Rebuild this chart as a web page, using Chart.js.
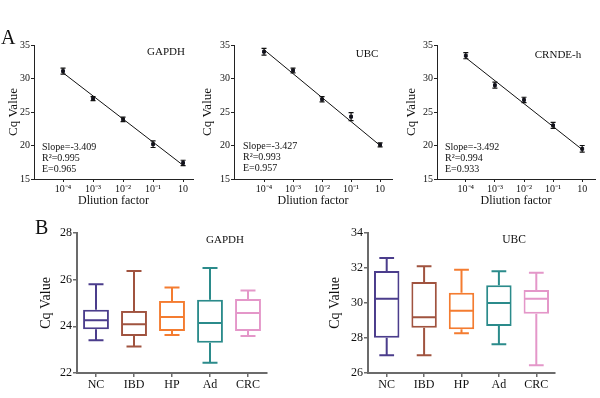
<!DOCTYPE html>
<html>
<head>
<meta charset="utf-8">
<title>Standard curves and Cq values of reference genes</title>
<script src="https://cdn.jsdelivr.net/npm/chart.js"></script>
<style>
  body { margin: 0; background: #fff; }
  #wrap { position: relative; width: 600px; height: 398px; overflow: hidden; }
  #wrap canvas { position: absolute; }
  .t { position: absolute; font-family: 'Liberation Serif', 'Times New Roman', serif; color: #111; white-space: nowrap; }
</style>
</head>
<body>
<div id="wrap">
  <canvas id="a1" width="200" height="190" style="left:0px;top:20px"></canvas>
  <canvas id="a2" width="200" height="190" style="left:200px;top:20px"></canvas>
  <canvas id="a3" width="197" height="190" style="left:403px;top:20px"></canvas>
  <canvas id="b1" width="300" height="188" style="left:0px;top:210px"></canvas>
  <canvas id="b2" width="300" height="188" style="left:300px;top:210px"></canvas>

  <div class="t" style="left:1px;top:27px;font-size:20px;line-height:20px">A</div>
  <div class="t" style="left:35px;top:217px;font-size:20px;line-height:20px">B</div>

  <div class="t" style="left:116px;top:46px;width:100px;text-align:center;font-size:11px;line-height:11px">GAPDH</div>
  <div class="t" style="left:317px;top:48px;width:100px;text-align:center;font-size:11px;line-height:11px">UBC</div>
  <div class="t" style="left:508px;top:49px;width:100px;text-align:center;font-size:11px;line-height:11px">CRNDE-h</div>

  <div class="t" style="left:42px;top:141px;font-size:10px;line-height:11px">Slope=-3.409<br>R²=0.995<br>E=0.965</div>
  <div class="t" style="left:243px;top:140px;font-size:10px;line-height:11px">Slope=-3.427<br>R²=0.993<br>E=0.957</div>
  <div class="t" style="left:445px;top:141px;font-size:10px;line-height:11px">Slope=-3.492<br>R²=0.994<br>E=0.933</div>

  <div class="t" style="left:175px;top:234px;width:100px;text-align:center;font-size:11px;line-height:11px">GAPDH</div>
  <div class="t" style="left:464px;top:234px;width:100px;text-align:center;font-size:11.5px;line-height:11px">UBC</div>
</div>
<script>
// --- data: standard curves (A) ---
var dilutionLabels = ['10⁻⁴', '10⁻³', '10⁻²', '10⁻¹', '10'];

var gapdhCurve = [31.1, 27.0, 23.9, 20.2, 17.4];
var gapdhCurveErr = [0.45, 0.3, 0.35, 0.5, 0.4];
var gapdhFit = [30.85, 17.05];

var ubcCurve = [34.0, 31.2, 26.9, 24.3, 20.1];
var ubcCurveErr = [0.5, 0.35, 0.4, 0.6, 0.3];
var ubcFit = [34.3, 20.0];

var crndeCurve = [33.4, 29.0, 26.8, 23.0, 19.5];
var crndeCurveErr = [0.45, 0.45, 0.4, 0.45, 0.5];
var crndeFit = [33.1, 19.4];

// --- data: Cq box plots (B) ---
var groups = ['NC', 'IBD', 'HP', 'Ad', 'CRC'];
var groupColors = ['#4b3d8c', '#a0533f', '#f47c30', '#2b8b8b', '#e497c9'];

var gapdhMin = [23.4, 23.14, 23.63, 22.44, 23.59];
var gapdhQ1 = [23.87, 23.59, 23.8, 23.3, 23.8];
var gapdhMedian = [24.26, 24.09, 24.4, 24.14, 24.57];
var gapdhQ3 = [24.71, 24.66, 25.09, 25.14, 25.17];
var gapdhMax = [25.8, 26.37, 25.66, 26.5, 25.54];

var ubcMin = [27.01, 27.01, 28.27, 27.64, 26.44];
var ubcQ1 = [28.02, 28.59, 28.5, 28.69, 29.39];
var ubcMedian = [30.25, 29.18, 29.56, 30.0, 30.25];
var ubcQ3 = [31.83, 31.2, 30.59, 31.01, 30.74];
var ubcMax = [32.57, 32.1, 31.9, 31.81, 31.73];

var serif = "'Liberation Serif', 'Times New Roman', serif";

// error bars for the standard curve points
var errPlugin = {
    id: 'errBars',
    afterDatasetsDraw: function(chart) {
        var ctx = chart.ctx, y = chart.scales.y;
        chart.data.datasets.forEach(function(ds, di) {
            if (!ds.errors) return;
            chart.getDatasetMeta(di).data.forEach(function(pt, i) {
                var v = ds.data[i].y, e = ds.errors[i];
                var top = y.getPixelForValue(v + e), bot = y.getPixelForValue(v - e);
                ctx.save();
                ctx.strokeStyle = '#111';
                ctx.lineWidth = 1.2;
                ctx.beginPath();
                ctx.moveTo(pt.x, top); ctx.lineTo(pt.x, bot);
                ctx.moveTo(pt.x - 2.5, top); ctx.lineTo(pt.x + 2.5, top);
                ctx.moveTo(pt.x - 2.5, bot); ctx.lineTo(pt.x + 2.5, bot);
                ctx.stroke();
                ctx.restore();
            });
        });
    }
};

// whiskers + median on top of the floating bars
var boxPlugin = {
    id: 'boxWhiskers',
    afterDatasetsDraw: function(chart) {
        var ds = chart.data.datasets[0];
        if (!ds.whiskers) return;
        var ctx = chart.ctx, y = chart.scales.y, w = ds.whiskers;
        chart.getDatasetMeta(0).data.forEach(function(bar, i) {
            var half = bar.width / 2 - 1, cap = bar.width * 0.29;
            var yHi = y.getPixelForValue(w.hi[i]), yLo = y.getPixelForValue(w.lo[i]);
            var yQ3 = y.getPixelForValue(ds.data[i][1]), yQ1 = y.getPixelForValue(ds.data[i][0]);
            var yMed = y.getPixelForValue(w.med[i]);
            ctx.save();
            ctx.strokeStyle = groupColors[i];
            ctx.lineWidth = 2;
            ctx.beginPath();
            ctx.moveTo(bar.x, yHi); ctx.lineTo(bar.x, yQ3);
            ctx.moveTo(bar.x, yQ1); ctx.lineTo(bar.x, yLo);
            ctx.moveTo(bar.x - cap, yHi); ctx.lineTo(bar.x + cap, yHi);
            ctx.moveTo(bar.x - cap, yLo); ctx.lineTo(bar.x + cap, yLo);
            ctx.moveTo(bar.x - half, yMed); ctx.lineTo(bar.x + half, yMed);
            ctx.stroke();
            ctx.restore();
        });
    }
};

function curveChart(id, values, errs, fit, xMin, xMax, padRight, yTitlePad) {
    var ctx = document.getElementById(id).getContext('2d');
    return new Chart(ctx, {
        type: 'scatter',
        data: {
            datasets: [
                {
                    type: 'line',
                    data: [{ x: 1, y: fit[0] }, { x: 5, y: fit[1] }],
                    borderColor: '#111',
                    borderWidth: 1,
                    pointRadius: 0
                },
                {
                    data: values.map(function(v, i) { return { x: i + 1, y: v }; }),
                    errors: errs,
                    backgroundColor: '#151525',
                    borderColor: '#151525',
                    pointStyle: 'rect',
                    pointRadius: 2
                }
            ]
        },
        options: {
            responsive: false,
            animation: false,
            layout: { padding: { top: 25, right: padRight, left: 0, bottom: 0 } },
            plugins: { legend: { display: false }, tooltip: { enabled: false } },
            scales: {
                x: {
                    type: 'linear',
                    min: xMin,
                    max: xMax,
                    afterBuildTicks: function(s) {
                        s.ticks = [1, 2, 3, 4, 5].map(function(v) { return { value: v }; });
                    },
                    afterFit: function(s) { s.height = 31; },
                    ticks: {
                        callback: function(v) { return dilutionLabels[v - 1]; },
                        font: { family: serif, size: 10 },
                        color: '#111',
                        padding: 1,
                        maxRotation: 0,
                        autoSkip: false
                    },
                    grid: { display: true, drawOnChartArea: false, tickLength: 3, color: '#222' },
                    border: { color: '#222', width: 1 },
                    title: {
                        display: true,
                        text: 'Dliution factor',
                        font: { family: serif, size: 12 },
                        color: '#111',
                        padding: { top: 0, bottom: 2 }
                    }
                },
                y: {
                    min: 15,
                    max: 35,
                    afterFit: function(s) { s.width = 34; },
                    ticks: {
                        stepSize: 5,
                        font: { family: serif, size: 10 },
                        color: '#111',
                        padding: 1
                    },
                    grid: { display: true, drawOnChartArea: false, tickLength: 3, color: '#222' },
                    border: { color: '#222', width: 1 },
                    title: {
                        display: true,
                        text: 'Cq Value',
                        font: { family: serif, size: 13 },
                        color: '#111',
                        padding: { top: yTitlePad, bottom: 0 }
                    }
                }
            }
        },
        plugins: [errPlugin]
    });
}

function boxChart(id, lo, q1, med, q3, hi, yMin, yMax, yWidth, padRight, yTitlePad) {
    var ctx = document.getElementById(id).getContext('2d');
    return new Chart(ctx, {
        type: 'bar',
        data: {
            labels: groups,
            datasets: [{
                data: q1.map(function(v, i) { return [v, q3[i]]; }),
                whiskers: { lo: lo, med: med, hi: hi },
                backgroundColor: '#ffffff',
                borderColor: groupColors,
                borderWidth: 2,
                borderSkipped: false,
                barPercentage: 0.85,
                categoryPercentage: 0.8
            }]
        },
        options: {
            responsive: false,
            animation: false,
            layout: { padding: { top: 23, right: padRight, left: 0, bottom: 0 } },
            plugins: { legend: { display: false }, tooltip: { enabled: false } },
            scales: {
                x: {
                    afterFit: function(s) { s.height = 25; },
                    ticks: {
                        font: { family: serif, size: 12 },
                        color: '#111',
                        padding: 1
                    },
                    grid: { display: true, offset: false, drawOnChartArea: false, tickLength: 4, color: '#6b6b6b', lineWidth: 1.5 },
                    border: { color: '#6b6b6b', width: 2 }
                },
                y: {
                    min: yMin,
                    max: yMax,
                    afterFit: function(s) { s.width = yWidth; },
                    ticks: {
                        stepSize: 2,
                        font: { family: serif, size: 12 },
                        color: '#111',
                        padding: 1
                    },
                    grid: { display: true, drawOnChartArea: false, tickLength: 4, color: '#6b6b6b', lineWidth: 1.5 },
                    border: { color: '#6b6b6b', width: 2 },
                    title: {
                        display: true,
                        text: 'Cq Value',
                        font: { family: serif, size: 14 },
                        color: '#111',
                        padding: { top: yTitlePad, bottom: 0 }
                    }
                }
            }
        },
        plugins: [boxPlugin]
    });
}

curveChart('a1', gapdhCurve, gapdhCurveErr, gapdhFit, 0.033, 5.33, 7, 5.5);
curveChart('a2', ubcCurve, ubcCurveErr, ubcFit, -0.034, 5.41, 8, 0);
curveChart('a3', crndeCurve, crndeCurveErr, crndeFit, 0.01, 5.44, 0, 0.5);

boxChart('b1', gapdhMin, gapdhQ1, gapdhMedian, gapdhQ3, gapdhMax, 22, 28, 77, 33, 38);
boxChart('b2', ubcMin, ubcQ1, ubcMedian, ubcQ3, ubcMax, 26, 34, 68, 45, 26.5);
</script>
</body>
</html>
